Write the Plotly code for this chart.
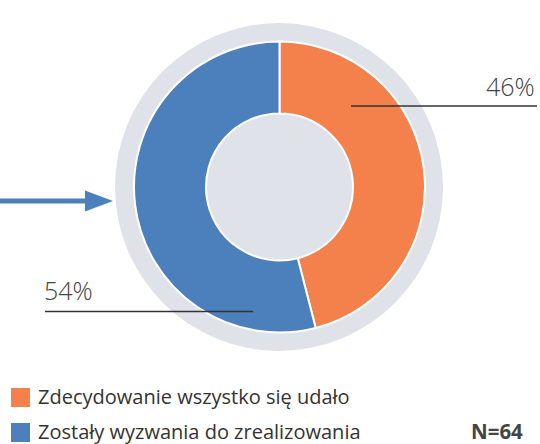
import plotly.graph_objects as go

labels = ["Zdecydowanie wszystko się udało", "Zostały wyzwania do zrealizowania"]
values = [46, 54]
colors = ["#f4804b", "#4b80bc"]
pct_text = ["46%", "54%"]
n_text = "N=64"

W, H = 540, 444

def px(x):
    return x / W

def py(y):
    return (H - y) / H

fig = go.Figure()
fig.add_trace(go.Pie(
    labels=labels, values=values, sort=False, direction="clockwise", rotation=0,
    hole=0.505, textinfo="none", hoverinfo="label+percent",
    marker=dict(colors=colors, line=dict(color="white", width=2)),
    domain=dict(x=[px(134), px(425)], y=[py(332.5), py(41.5)]),
    showlegend=False,
))

shapes = []
# outer gray ring / inner fill
shapes.append(dict(type="circle", xref="paper", yref="paper",
                   x0=px(115), x1=px(443), y0=py(351), y1=py(23),
                   fillcolor="#dfe2e8", line=dict(width=0), layer="below"))
# leader lines
shapes.append(dict(type="line", xref="paper", yref="paper",
                   x0=px(351), x1=px(537), y0=py(106), y1=py(106),
                   line=dict(color="#333333", width=1.5), layer="above"))
shapes.append(dict(type="line", xref="paper", yref="paper",
                   x0=px(45), x1=px(253), y0=py(311.5), y1=py(311.5),
                   line=dict(color="#333333", width=1.5), layer="above"))
# arrow
shapes.append(dict(type="line", xref="paper", yref="paper",
                   x0=0, x1=px(88), y0=py(201), y1=py(201),
                   line=dict(color=colors[1], width=5)))
shapes.append(dict(type="path", xref="paper", yref="paper",
                   path=f"M {px(85)},{py(190.5)} L {px(113)},{py(201)} L {px(85)},{py(211.5)} Z",
                   fillcolor=colors[1], line=dict(width=0)))
# legend squares
leg_y = [397.5, 432.5]
for c, yy in zip(colors, leg_y):
    shapes.append(dict(type="rect", xref="paper", yref="paper",
                       x0=px(11), x1=px(30), y0=py(yy + 9.5), y1=py(yy - 9.5),
                       fillcolor=c, line=dict(width=0)))

annotations = []
annotations.append(dict(xref="paper", yref="paper", x=px(537), y=py(86), text=pct_text[0],
                        showarrow=False, xanchor="right", yanchor="middle",
                        font=dict(family="Open Sans", size=25, color="#444444", weight=300)))
annotations.append(dict(xref="paper", yref="paper", x=px(42), y=py(290), text=pct_text[1],
                        showarrow=False, xanchor="left", yanchor="middle",
                        font=dict(family="Open Sans", size=25, color="#444444", weight=300)))
for lab, yy in zip(labels, leg_y):
    annotations.append(dict(xref="paper", yref="paper", x=px(37), y=py(yy - 1.5), text=lab,
                            showarrow=False, xanchor="left", yanchor="middle", borderpad=0,
                            font=dict(family="Open Sans", size=20, color="#333333")))
annotations.append(dict(xref="paper", yref="paper", x=px(524), y=py(430.5), text=n_text,
                        showarrow=False, xanchor="right", yanchor="middle", borderpad=0,
                        font=dict(family="Open Sans", size=20.5, color="#444444", weight="bold")))

fig.update_layout(
    width=W, height=H, margin=dict(l=0, r=0, t=0, b=0),
    paper_bgcolor="white", plot_bgcolor="white",
    shapes=shapes, annotations=annotations,
)

fig.write_html("out.html", config={"displayModeBar": False},
               post_script="document.body.style.margin='0';document.body.style.overflow='hidden';")
